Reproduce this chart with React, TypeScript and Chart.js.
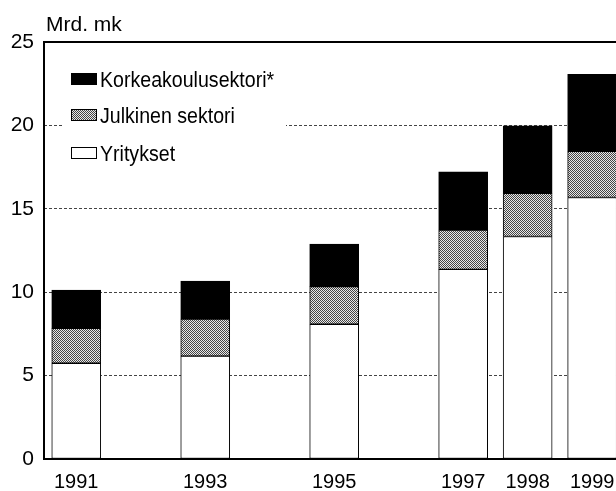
import React, { useEffect, useRef } from "react";
import { Chart, registerables } from "chart.js";

Chart.register(...registerables);

// ---- Data ----
const years = [1991, 1993, 1995, 1997, 1998, 1999];
const yritykset = [5.74, 6.17, 8.08, 11.37, 13.34, 15.68];
const julkinen = [2.09, 2.22, 2.25, 2.36, 2.59, 2.77];
const korkeakoulu = [2.3, 2.28, 2.56, 3.49, 4.04, 4.61];
const seriesNames = ["Yritykset", "Julkinen sektori", "Korkeakoulusektori*"];
const yTicks = [0, 5, 10, 15, 20, 25];
const unitLabel = "Mrd. mk";

const FONT = "'Liberation Sans', Arial, sans-serif";

function makePattern(ctx: CanvasRenderingContext2D) {
  const c = document.createElement("canvas");
  c.width = 4;
  c.height = 4;
  const g = c.getContext("2d")!;
  g.fillStyle = "#e8e8e8";
  g.fillRect(0, 0, 4, 4);
  g.fillStyle = "#444444";
  for (let y = 0; y < 4; y++)
    for (let x = 0; x < 4; x++) if ((x + y) % 2 === 0) g.fillRect(x, y, 1, 1);
  return ctx.createPattern(c, "repeat")!;
}

export default function App() {
  const ref = useRef<HTMLCanvasElement | null>(null);

  useEffect(() => {
    const canvas = ref.current!;
    const ctx = canvas.getContext("2d")!;
    const gray = makePattern(ctx);

    const fills = ["#ffffff", gray, "#000000"];
    const values = [yritykset, julkinen, korkeakoulu];

    const framePlugin = {
      id: "frameAndLegend",
      beforeDatasetsDraw(chart: any) {
        const c = chart.ctx as CanvasRenderingContext2D;
        c.save();
        c.fillStyle = "#ffffff";
        c.fillRect(62, 60, 224, 110);
        const items = chart.data.datasets.slice().reverse();
        const swatchTops = [73, 109, 147];
        const baselines = [87, 123, 161];
        items.forEach((ds: any, i: number) => {
          c.fillStyle = ds.backgroundColor;
          c.fillRect(71, swatchTops[i], 26, 12);
          c.strokeStyle = "#000";
          c.lineWidth = 1;
          c.strokeRect(71.5, swatchTops[i] + 0.5, 25, 11);
          c.save();
          c.fillStyle = "#000";
          c.font = `22px ${FONT}`;
          c.textBaseline = "alphabetic";
          c.translate(100, baselines[i]);
          c.scale(0.89, 1);
          c.fillText(ds.label, 0, 0);
          c.restore();
        });
        c.restore();
      },
      afterDatasetsDraw(chart: any) {
        const c = chart.ctx as CanvasRenderingContext2D;
        const a = chart.chartArea;
        c.save();
        c.strokeStyle = "#000";
        c.lineWidth = 2;
        c.beginPath();
        c.moveTo(a.left, a.top);
        c.lineTo(a.right, a.top);
        c.moveTo(a.left, a.top - 1);
        c.lineTo(a.left, a.bottom + 1);
        c.moveTo(a.left - 1, a.bottom);
        c.lineTo(a.right, a.bottom);
        c.stroke();
        c.fillStyle = "#000";
        c.font = `21px ${FONT}`;
        c.textBaseline = "alphabetic";
        c.fillText(unitLabel, a.left + 2, 31);
        c.restore();
      },
    };

    const chart = new Chart(canvas, {
      type: "bar",
      data: {
        datasets: seriesNames.map((name, s) => ({
          label: name,
          data: years.map((yr, i) => ({ x: yr, y: values[s][i] })),
          backgroundColor: fills[s] as any,
          borderColor: "#000000",
          borderWidth: 1,
          borderSkipped: false,
          barThickness: 49,
        })),
      },
      options: {
        responsive: false,
        animation: false,
        devicePixelRatio: 1,
        layout: { padding: { top: 42, left: 0, right: 0, bottom: 0 } },
        plugins: {
          legend: { display: false },
          tooltip: { enabled: false },
          title: { display: false },
        },
        scales: {
          x: {
            type: "linear",
            stacked: true,
            offset: false,
            min: 1990.5,
            max: 1999.37,
            grid: { display: false, drawTicks: false, offset: false },
            border: { display: false },
            afterBuildTicks: (scale: any) => {
              scale.ticks = years.map((v) => ({ value: v }));
            },
            afterFit: (scale: any) => {
              scale.height = 32;
              scale.paddingLeft = 0;
              scale.paddingRight = 0;
            },
            ticks: {
              autoSkip: false,
              maxRotation: 0,
              padding: 11,
              color: "#000",
              font: { family: FONT, size: 20 },
              callback: (v: any) => String(v),
            },
          },
          y: {
            stacked: true,
            min: 0,
            max: 25,
            afterBuildTicks: (scale: any) => {
              scale.ticks = yTicks.map((v) => ({ value: v }));
            },
            afterFit: (scale: any) => {
              scale.width = 44;
            },
            grid: {
              color: "#444",
              lineWidth: 1,
              drawTicks: false,
            },
            border: { display: false, dash: [3, 2] },
            ticks: {
              padding: 10,
              color: "#000",
              font: { family: FONT, size: 21 },
              callback: (v: any) => String(v),
            },
          },
        },
      },
      plugins: [framePlugin],
    } as any);

    return () => chart.destroy();
  }, []);

  return (
    <div style={{ position: "fixed", left: 0, top: 0, width: 616, height: 491, background: "#fff" }}>
      <canvas ref={ref} width={616} height={491} style={{ width: 616, height: 491, display: "block" }} />
    </div>
  );
}
